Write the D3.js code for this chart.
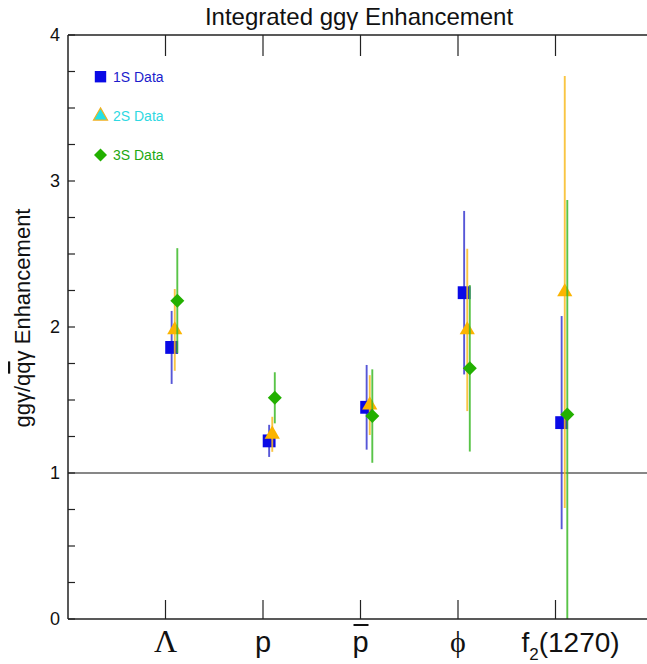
<!DOCTYPE html>
<html>
<head>
<meta charset="utf-8">
<script src="https://cdn.jsdelivr.net/npm/d3@7"></script>
<style>
  html, body { margin: 0; padding: 0; background: #fff; }
  svg { display: block; }
  text { font-family: "Liberation Sans", Arial, Helvetica, sans-serif; }
</style>
</head>
<body>
<svg id="chart" width="647" height="664"></svg>
<script>
// ---- data ----
const categories = ["Λ", "p", "p̄", "φ", "f2(1270)"];
const catPos = [1, 2, 3, 4, 5];
const series1S = [1.86, 1.22, 1.45, 2.235, 1.345];
const err1S    = [0.25, 0.11, 0.29, 0.56, 0.73];
const series2S = [1.98, 1.265, 1.465, 1.98, 2.24];
const err2S    = [0.28, 0.12, 0.205, 0.556, 1.48];
const series3S = [2.18, 1.515, 1.39, 1.717, 1.40];
const err3S    = [0.36, 0.175, 0.32, 0.57, 1.47];
const seriesNames = ["1S Data", "2S Data", "3S Data"];
const yTicks = [0, 1, 2, 3, 4];
const yMinorTicks = d3.range(0, 4.001, 0.25);

const svg = d3.select("#chart");
const x = d3.scaleLinear().domain([0, 6]).range([68, 653]);
const y = d3.scaleLinear().domain([0, 4]).range([619, 35]);

const series = [
  { name: seriesNames[0], vals: series1S, errs: err1S, off: 0.063, line: "#3a3ad0", fill: "#0a0ae6", sym: "square" },
  { name: seriesNames[1], vals: series2S, errs: err2S, off: 0.095, line: "#f8bb22", fill: "#fbb400", sym: "triangle" },
  { name: seriesNames[2], vals: series3S, errs: err3S, off: 0.121, line: "#3cba28", fill: "#22b000", sym: "diamond" }
];

// clip
svg.append("clipPath").attr("id", "plotclip").append("rect")
  .attr("x", x(0)).attr("y", y(4)).attr("width", x(6) - x(0)).attr("height", y(0) - y(4));

// reference line at 1
svg.append("line").attr("x1", x(0)).attr("x2", x(6)).attr("y1", y(1)).attr("y2", y(1))
  .attr("stroke", "#111").attr("stroke-width", 1.2);

function symPath(kind, size) {
  if (kind === "triangle") return d3.symbol().type(d3.symbolTriangle).size(size)();
  return d3.symbol().type(d3.symbolSquare).size(size)();
}

const plot = svg.append("g").attr("clip-path", "url(#plotclip)");
series.forEach(s => {
  const g = plot.append("g");
  s.vals.forEach((v, i) => {
    const cx = x(catPos[i] + s.off);
    g.append("line")
      .attr("x1", cx).attr("x2", cx)
      .attr("y1", y(v + s.errs[i])).attr("y2", y(v - s.errs[i]))
      .attr("stroke", s.line).attr("stroke-width", 1.9).attr("stroke-opacity", 0.85);
    const size = s.sym === "square" ? 165 : (s.sym === "triangle" ? 100 : 98);
    g.append("path")
      .attr("d", symPath(s.sym, size))
      .attr("transform", `translate(${cx},${y(v)})` + (s.sym === "diamond" ? " rotate(45)" : ""))
      .attr("fill", s.fill);
  });
});

// axes frame
const axisColor = "#222";
svg.append("line").attr("x1", x(0)).attr("x2", x(0)).attr("y1", y(0)).attr("y2", y(4))
  .attr("stroke", axisColor).attr("stroke-width", 1.5);
svg.append("line").attr("x1", x(0)).attr("x2", x(6)).attr("y1", y(4)).attr("y2", y(4))
  .attr("stroke", axisColor).attr("stroke-width", 1.5);
svg.append("line").attr("x1", x(0)).attr("x2", x(6)).attr("y1", y(0)).attr("y2", y(0))
  .attr("stroke", axisColor).attr("stroke-width", 1.5);

// y ticks (minor every 0.25)
svg.append("g").selectAll("line").data(yMinorTicks).join("line")
  .attr("x1", x(0)).attr("x2", x(0) + 7)
  .attr("y1", d => y(d)).attr("y2", d => y(d))
  .attr("stroke", axisColor).attr("stroke-width", 1.2);
svg.append("g").selectAll("text").data(yTicks).join("text")
  .attr("x", 60).attr("y", d => y(d)).attr("dy", "0.36em")
  .attr("text-anchor", "end").attr("font-size", 18).attr("fill", "#111")
  .text(d => d);

// x ticks (top & bottom)
svg.append("g").selectAll("line").data(catPos).join("line")
  .attr("x1", d => x(d)).attr("x2", d => x(d))
  .attr("y1", y(0)).attr("y2", y(0) - 19)
  .attr("stroke", axisColor).attr("stroke-width", 1.2);
svg.append("g").selectAll("line").data(catPos).join("line")
  .attr("x1", d => x(d)).attr("x2", d => x(d))
  .attr("y1", y(4)).attr("y2", y(4) + 21)
  .attr("stroke", axisColor).attr("stroke-width", 1.2);

// x labels
const xl = svg.append("g");
catPos.forEach((c, i) => {
  const t = xl.append("text").attr("y", 652).attr("fill", "#111").attr("text-anchor", "middle");
  const lab = categories[i];
  if (lab === "Λ") {
    t.attr("x", x(c)).attr("font-size", 32).style("font-family", "'Liberation Serif', 'Times New Roman', serif").text("Λ");
  } else if (lab === "φ") {
    t.attr("x", x(c)).attr("font-size", 30).style("font-family", "'Liberation Serif', 'Times New Roman', serif").text("ϕ");
  } else if (lab === "p̄") {
    t.attr("x", x(c)).attr("font-size", 29).text("p");
    xl.append("line").attr("x1", x(c) - 7).attr("x2", x(c) + 8)
      .attr("y1", 625).attr("y2", 625).attr("stroke", "#111").attr("stroke-width", 2);
  } else if (lab === "p") {
    t.attr("x", x(c)).attr("font-size", 29).text("p");
  } else {
    t.attr("x", x(c) + 15).attr("font-size", 28);
    t.append("tspan").text("f");
    t.append("tspan").attr("font-size", 17).attr("dy", 8).text("2");
    t.append("tspan").attr("dy", -8).text("(1270)");
  }
});

// title
svg.append("text").attr("x", 359).attr("y", 25).attr("text-anchor", "middle")
  .attr("font-size", 24).attr("fill", "#111").text("Integrated ggγ Enhancement");

// y label
const yl = svg.append("text")
  .attr("transform", "translate(30,318) rotate(-90)")
  .attr("text-anchor", "middle").attr("font-size", 22).attr("fill", "#111");
yl.append("tspan").text("ggγ/q");
yl.append("tspan").style("text-decoration", "overline").text("q");
yl.append("tspan").text("γ Enhancement");

// legend
const leg = [
  { y: 76.7, name: seriesNames[0], text: "#1c1ccc", sym: "square", fill: "#0a0ae6", stroke: "none", size: 130 },
  { y: 116, name: seriesNames[1], text: "#2fd8e2", sym: "triangle", fill: "#22e0e8", stroke: "#f0b020", size: 85 },
  { y: 155, name: seriesNames[2], text: "#22a812", sym: "diamond", fill: "#22b000", stroke: "none", size: 85 }
];
leg.forEach(l => {
  svg.append("path").attr("d", symPath(l.sym, l.size))
    .attr("transform", `translate(100.5,${l.y})` + (l.sym === "diamond" ? " rotate(45)" : ""))
    .attr("fill", l.fill).attr("stroke", l.stroke).attr("stroke-width", 1.2);
  svg.append("text").attr("x", 113).attr("y", l.y).attr("dy", "0.36em")
    .attr("font-size", 14).attr("fill", l.text).text(l.name);
});
</script>
</body>
</html>
